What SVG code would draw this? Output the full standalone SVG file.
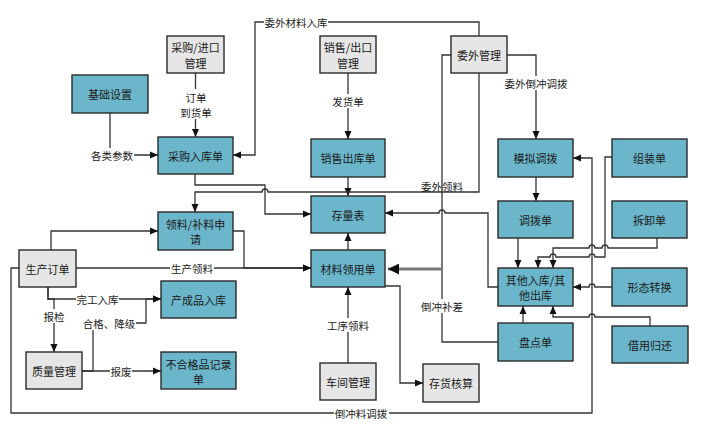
<svg xmlns="http://www.w3.org/2000/svg" width="705" height="425" viewBox="0 0 705 425">
<defs>
<style>
.b{fill:#6cb6cc;stroke:#2a2a2a;stroke-width:1.4}
.g{fill:#e6e6e6;stroke:#2a2a2a;stroke-width:1.4}
text{font-family:"Noto Sans CJK SC","Noto Sans",sans-serif;fill:#1a1a1a;text-anchor:middle;dominant-baseline:central}
.t{font-size:11px}
.l{font-size:10.5px}
.c{fill:none;stroke:#333;stroke-width:1.3}
.bg{fill:#fff}
</style>
<marker id="a" markerWidth="8" markerHeight="8" refX="8" refY="4" orient="auto" markerUnits="userSpaceOnUse"><path d="M0,0.5 L8,4 L0,7.5 z" fill="#111"/></marker>
<marker id="A" markerWidth="11" markerHeight="11" refX="11" refY="5.5" orient="auto" markerUnits="userSpaceOnUse"><path d="M0,0 L11,5.5 L0,11 z" fill="#111"/></marker>
</defs>
<rect width="705" height="425" fill="#fff"/>

<g id="connectors">
<path class="c" d="M195.5,73 V137" marker-end="url(#a)"/>
<path class="c" d="M110,113 V155 H158" marker-end="url(#a)"/>
<path class="c" d="M479,36 V22 H255 V155 H233" marker-end="url(#a)"/>
<path class="c" d="M348,73 V139" marker-end="url(#a)"/>
<path class="c" d="M348,177 V196" marker-end="url(#a)"/>
<path class="c" d="M195,174 V185 H265 V214 H311" marker-end="url(#a)"/>
<path class="c" d="M479,73 V192 H268 A3,3 0 0 0 262,192 H195 V212" marker-end="url(#a)"/>
<path class="c" d="M451,55 H442 V269"/>
<path class="c" d="M498,342 H442 V269"/>
<path d="M442,269 H388" fill="none" stroke="#777" stroke-width="3.2" marker-end="url(#A)"/>
<path class="c" d="M498,287 H488 V213 H445 A3,3 0 0 0 439,213 H385" marker-end="url(#a)"/>
<path class="c" d="M233,231 H244 V268 H311" marker-end="url(#a)"/>
<path class="c" d="M76,268 H311" marker-end="url(#a)"/>
<path class="c" d="M51,250 V231 H158" marker-end="url(#a)"/>
<path class="c" d="M48,287 V299 H161" marker-end="url(#a)"/>
<path class="c" d="M48,287 V299 H54 V352" marker-end="url(#a)"/>
<path class="c" d="M82,371 H161" marker-end="url(#a)"/>
<path class="c" d="M82,371 H93 V323 H146 V299 H161" marker-end="url(#a)"/>
<path class="c" d="M348,363 V287" marker-end="url(#a)"/>
<path class="c" d="M385,286 H400 V383 H423" marker-end="url(#a)"/>
<path class="c" d="M348,250 V233" marker-end="url(#a)"/>
<path class="c" d="M19,268 H11 V413 H592 V158 H573" marker-end="url(#a)"/>
<path class="c" d="M536,177 V201" marker-end="url(#a)"/>
<path class="c" d="M507,55 H536 V139" marker-end="url(#a)"/>
<path class="c" d="M612,157 H605 V257 H595 A3,3 0 0 0 589,257 H556 A3,3 0 0 0 550,257 H538 V268" marker-end="url(#a)"/>
<path class="c" d="M657,238 V248 H608 A3,3 0 0 0 602,248 H595 A3,3 0 0 0 589,248 H553 V268" marker-end="url(#a)"/>
<path class="c" d="M518,238 V268" marker-end="url(#a)"/>
<path class="c" d="M612,287 H595 A3,3 0 0 0 589,287 H573" marker-end="url(#a)"/>
<path class="c" d="M650,326 V317 H595 A3,3 0 0 0 589,317 H553 V306" marker-end="url(#a)"/>
<path class="c" d="M523,323 V306" marker-end="url(#a)"/>

<g id="labels">
<rect class="bg" x="183" y="89" width="26" height="30"/><text class="l" x="196" y="97">订单</text>
<text class="l" x="196" y="112">到货单</text>
<rect class="bg" x="91" y="148" width="43" height="14"/><text class="l" x="112" y="155">各类参数</text>
<rect class="bg" x="264" y="15" width="64" height="14"/><text class="l" x="296" y="22">委外材料入库</text>
<rect class="bg" x="331" y="94" width="34" height="14"/><text class="l" x="348" y="101">发货单</text>
<rect class="bg" x="504" y="76" width="64" height="14"/><text class="l" x="536" y="83">委外倒冲调拨</text>
<text class="l" x="442" y="186">委外领料</text>
<rect class="bg" x="421" y="299" width="43" height="14"/><text class="l" x="442" y="306">倒冲补差</text>
<rect class="bg" x="170" y="261" width="44" height="14"/><text class="l" x="192" y="268">生产领料</text>
<rect class="bg" x="76" y="292" width="43" height="14"/><text class="l" x="97.5" y="299">完工入库</text>
<rect class="bg" x="43" y="309" width="22" height="14"/><text class="l" x="54" y="316">报检</text>
<rect class="bg" x="83" y="316" width="53" height="14"/><text class="l" x="109" y="323">合格、降级</text>
<rect class="bg" x="110" y="364" width="22" height="14"/><text class="l" x="121" y="371">报废</text>
<rect class="bg" x="326" y="318" width="44" height="14"/><text class="l" x="348" y="325">工序领料</text>
<rect class="bg" x="334" y="406" width="55" height="14"/><text class="l" x="361" y="413">倒冲料调拨</text>
</g>
</g>

<g id="n-purch-mgmt"><rect class="g" x="167" y="36" width="57" height="37"/><text class="t" x="195.5" y="47">采购/进口</text><text class="t" x="195.5" y="62.5">管理</text></g>
<g id="n-basic"><rect class="b" x="72" y="75" width="76" height="38"/><text class="t" x="110" y="94">基础设置</text></g>
<g id="n-purch-in"><rect class="b" x="158" y="137" width="75" height="37"/><text class="t" x="195.5" y="155.5">采购入库单</text></g>
<g id="n-sales-mgmt"><rect class="g" x="320" y="36" width="56" height="37"/><text class="t" x="348" y="47">销售/出口</text><text class="t" x="348" y="62.5">管理</text></g>
<g id="n-sales-out"><rect class="b" x="311" y="139" width="74" height="38"/><text class="t" x="348" y="158">销售出库单</text></g>
<g id="n-outsrc"><rect class="g" x="451" y="36" width="56" height="37"/><text class="t" x="479" y="54.5">委外管理</text></g>
<g id="n-sim"><rect class="b" x="498" y="139" width="75" height="38"/><text class="t" x="535.5" y="158">模拟调拨</text></g>
<g id="n-assembly"><rect class="b" x="612" y="139" width="75" height="38"/><text class="t" x="649.5" y="158">组装单</text></g>
<g id="n-stock"><rect class="b" x="311" y="196" width="74" height="37"/><text class="t" x="348" y="214.5">存量表</text></g>
<g id="n-mat"><rect class="b" x="311" y="250" width="74" height="37"/><text class="t" x="348" y="268.5">材料领用单</text></g>
<g id="n-workshop"><rect class="g" x="320" y="363" width="56" height="37"/><text class="t" x="348" y="381.5">车间管理</text></g>
<g id="n-costing"><rect class="g" x="423" y="364" width="56" height="38"/><text class="t" x="451" y="383">存货核算</text></g>
<g id="n-transfer"><rect class="b" x="498" y="201" width="75" height="37"/><text class="t" x="535.5" y="219.5">调拨单</text></g>
<g id="n-disassembly"><rect class="b" x="612" y="201" width="75" height="37"/><text class="t" x="649.5" y="219.5">拆卸单</text></g>
<g id="n-other"><rect class="b" x="498" y="268" width="75" height="38"/><text class="t" x="535.5" y="279.5">其他入库/其</text><text class="t" x="535.5" y="295">他出库</text></g>
<g id="n-morph"><rect class="b" x="612" y="268" width="75" height="38"/><text class="t" x="649.5" y="287">形态转换</text></g>
<g id="n-count"><rect class="b" x="498" y="323" width="75" height="38"/><text class="t" x="535.5" y="342">盘点单</text></g>
<g id="n-borrow"><rect class="b" x="612" y="326" width="76" height="37"/><text class="t" x="650" y="344.5">借用归还</text></g>
<g id="n-req"><rect class="b" x="158" y="212" width="75" height="38"/><text class="t" x="195.5" y="223.5">领料/补料申</text><text class="t" x="195.5" y="239">请</text></g>
<g id="n-po"><rect class="g" x="19" y="250" width="57" height="37"/><text class="t" x="47.5" y="268.5">生产订单</text></g>
<g id="n-fg"><rect class="b" x="161" y="281" width="75" height="37"/><text class="t" x="198.5" y="299.5">产成品入库</text></g>
<g id="n-qm"><rect class="g" x="26" y="352" width="56" height="37"/><text class="t" x="54" y="370.5">质量管理</text></g>
<g id="n-ng"><rect class="b" x="161" y="352" width="75" height="37"/><text class="t" x="198.5" y="363.5">不合格品记录</text><text class="t" x="198.5" y="379">单</text></g>
</svg>
